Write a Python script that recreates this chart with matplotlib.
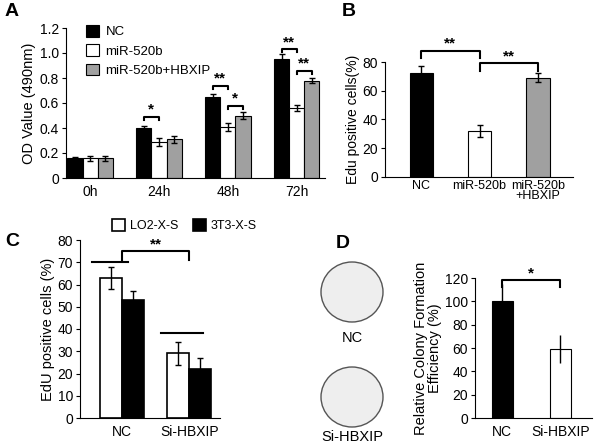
import matplotlib
matplotlib.use("Agg")
import matplotlib.pyplot as plt
from matplotlib.patches import Ellipse
import numpy as np

plt.rcParams["font.family"] = "Liberation Sans"

# Panel A
a_groups = ["0h", "24h", "48h", "72h"]
a_nc = [0.16, 0.40, 0.65, 0.95]
a_mir = [0.16, 0.29, 0.41, 0.56]
a_hbx = [0.16, 0.31, 0.50, 0.78]
a_nc_err = [0.01, 0.02, 0.02, 0.04]
a_mir_err = [0.02, 0.03, 0.03, 0.02]
a_hbx_err = [0.02, 0.03, 0.03, 0.02]
a_yticks = [0, 0.2, 0.4, 0.6, 0.8, 1.0, 1.2]
a_yticklabels = ["0", "0.2", "0.4", "0.6", "0.8", "1.0", "1.2"]

# Panel B
b_cats = ["NC", "miR-520b", "miR-520b\n+HBXIP"]
b_vals = [72, 32, 69]
b_err = [5, 4, 3]

# Panel C
c_cats = ["NC", "Si-HBXIP"]
c_lo2 = [63, 29]
c_3t3 = [53, 22]
c_lo2_err = [5, 5]
c_3t3_err = [4, 5]

# Panel D
d_cats = ["NC", "Si-HBXIP"]
d_vals = [100, 59]
d_err = [15, 12]

W, H = 600, 446
fig = plt.figure(figsize=(W / 100, H / 100), dpi=100)

def px_axes(l, t, r, b):
    return fig.add_axes([l / W, 1 - b / H, (r - l) / W, (b - t) / H])

def style(ax, fs=10):
    ax.spines["top"].set_visible(False)
    ax.spines["right"].set_visible(False)
    ax.tick_params(axis="y", direction="out", length=3, labelsize=fs, pad=2)
    ax.tick_params(axis="x", length=0, labelsize=fs, pad=5)

def bracket(ax, x1, x2, y, h, text, fs=11):
    ax.plot([x1, x1, x2, x2], [y - h, y, y, y - h], color="black", lw=1.5, clip_on=False)
    ax.text((x1 + x2) / 2, y, text, ha="center", va="bottom", fontsize=fs, fontweight="bold")

ekw = dict(capsize=2, elinewidth=1, ecolor="black")

# ---- A ----
ax = px_axes(66, 28, 325, 178)
x = np.arange(len(a_groups))
w = 0.22
ax.bar(x - w, a_nc, w, yerr=a_nc_err, color="black", edgecolor="black", lw=0.8, error_kw=ekw, label="NC")
ax.bar(x, a_mir, w, yerr=a_mir_err, color="white", edgecolor="black", lw=0.8, error_kw=ekw, label="miR-520b")
ax.bar(x + w, a_hbx, w, yerr=a_hbx_err, color="#a0a0a0", edgecolor="black", lw=0.8, error_kw=ekw, label="miR-520b+HBXIP")
ax.set_xlim(-0.35, 3.41)
ax.set_ylim(0, 1.2)
ax.set_yticks(a_yticks)
ax.set_yticklabels(a_yticklabels)
ax.set_xticks(x)
ax.set_xticklabels(a_groups)
ax.set_ylabel("OD Value (490nm)", fontsize=10.5, labelpad=3)
style(ax)
bracket(ax, 1 - w, 1, 0.49, 0.025, "*")
bracket(ax, 2 - w, 2, 0.74, 0.025, "**")
bracket(ax, 2, 2 + w, 0.58, 0.025, "*")
bracket(ax, 3 - w, 3, 1.03, 0.025, "**")
bracket(ax, 3, 3 + w, 0.86, 0.025, "**")
ax.legend(loc="upper left", bbox_to_anchor=(0.03, 1.1), frameon=False, fontsize=9.5,
          handlelength=1.0, handleheight=1.0, labelspacing=0.45, handletextpad=0.5)

# ---- B ----
ax = px_axes(385, 62, 573, 177)
xb = np.arange(len(b_cats))
ax.bar(xb, b_vals, 0.4, yerr=b_err, color=["black", "white", "#a0a0a0"], edgecolor="black", lw=0.8, error_kw=ekw)
ax.set_xlim(-0.62, 2.6)
ax.set_ylim(0, 80)
ax.set_yticks([0, 20, 40, 60, 80])
ax.set_xticks(xb)
ax.set_xticklabels(b_cats, linespacing=0.85)
ax.set_ylabel("Edu positive cells(%)", fontsize=10, labelpad=2)
style(ax)
ax.tick_params(axis="x", pad=2, labelsize=9)
bracket(ax, 0, 1, 88, 5, "**")
bracket(ax, 1, 2, 79, 5, "**")

# ---- C ----
ax = px_axes(80, 240, 220, 418)
xc = np.arange(len(c_cats))
wc = 0.33
ax.bar(xc - wc / 2, c_lo2, wc, yerr=c_lo2_err, color="white", edgecolor="black", lw=1.2, error_kw=ekw, label="LO2-X-S")
ax.bar(xc + wc / 2, c_3t3, wc, yerr=c_3t3_err, color="black", edgecolor="black", lw=1.2, error_kw=ekw, label="3T3-X-S")
ax.set_xlim(-0.63, 1.46)
ax.set_ylim(0, 80)
ax.set_yticks(range(0, 81, 10))
ax.set_xticks(xc)
ax.set_xticklabels(c_cats)
ax.set_ylabel("EdU positive cells (%)", fontsize=10.5, labelpad=2)
style(ax)
bracket(ax, 0, 1, 75, 4, "**")
ax.plot([-0.45, 0.08], [70, 70], color="black", lw=1.5)
ax.plot([0.58, 1.2], [38, 38], color="black", lw=1.5)
ax.legend(loc="lower left", bbox_to_anchor=(0.15, 0.98), ncol=2, frameon=False, fontsize=9,
          handlelength=1.0, handleheight=1.0, columnspacing=1.2, handletextpad=0.4)

# ---- D images ----
axi = px_axes(310, 240, 395, 446)
axi.set_xlim(310, 395)
axi.set_ylim(446, 240)
axi.axis("off")
for cy in (292, 397):
    axi.add_patch(Ellipse((352, cy), 62, 60, facecolor="#eeeeee", edgecolor="#555555", lw=1))
axi.text(352, 338, "NC", ha="center", va="center", fontsize=10.5)
axi.text(352, 437, "Si-HBXIP", ha="center", va="center", fontsize=10.5)

# ---- D chart ----
ax = px_axes(475, 278, 592, 418)
xd = np.arange(len(d_cats))
ax.bar(xd, d_vals, 0.36, yerr=d_err, color=["black", "white"], edgecolor="black", lw=0.8,
       error_kw=dict(capsize=0, elinewidth=1, ecolor="black"))
ax.set_xlim(-0.47, 1.55)
ax.set_ylim(0, 120)
ax.set_yticks(range(0, 121, 20))
ax.set_xticks(xd)
ax.set_xticklabels(d_cats)
ax.set_ylabel("Relative Colony Formation\nEfficiency (%)", fontsize=10.5, labelpad=2, linespacing=1.0)
style(ax)
bracket(ax, 0, 1, 118, 6, "*")

for lbl, px, py in (("A", 5, 12), ("B", 342, 12), ("C", 5, 242), ("D", 336, 244)):
    fig.text(px / W, 1 - py / H, lbl, fontsize=14, fontweight="bold", va="center", ha="left")

fig.savefig("out.png", dpi=100)
